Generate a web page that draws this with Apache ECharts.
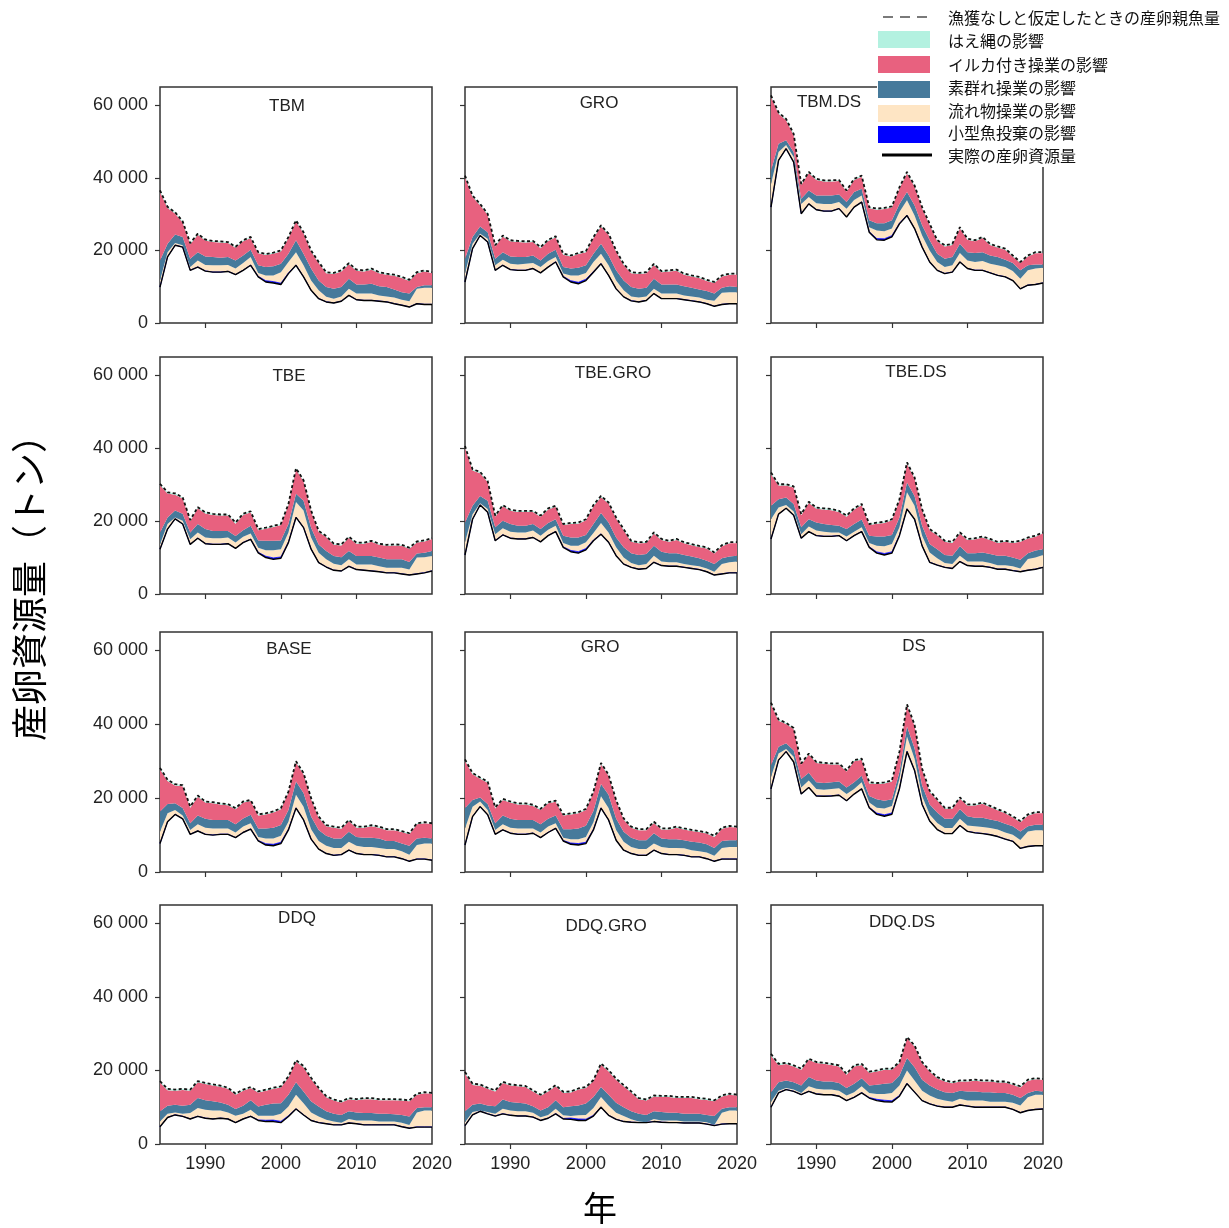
<!DOCTYPE html>
<html>
<head>
<meta charset="utf-8">
<script src="https://cdn.jsdelivr.net/npm/echarts@6/dist/echarts.min.js"></script>
<style>
  html, body { margin: 0; padding: 0; background: #fff; }
  #chart { width: 1229px; height: 1228px; }
</style>
</head>
<body>
<div id="chart"></div>
<script>
// Years on the x axis
const years = [1984,1985,1986,1987,1988,1989,1990,1991,1992,1993,1994,1995,1996,1997,1998,1999,2000,
               2001,2002,2003,2004,2005,2006,2007,2008,2009,2010,2011,2012,2013,2014,2015,2016,2017,2018,2019,2020];

// Tick values
const xTickYears = [1990, 2000, 2010];
const xLabelYears = [1990, 2000, 2010, 2020];
const yTickValues = [0, 20000, 40000, 60000];

// All levels below are in thousand tonnes.
// ssb = actual spawning biomass, driftTop = top of drifting-object band,
// freeTop = top of free-school band, total = biomass with no fishing.

// Small-fish discard impact (thin band just above the actual SSB)
const smallFishImpact = [0.05,0.05,0.05,0.05,0.05,0.05,0.05,0.05,0.05,0.05,0.05,0.05,0.08,0.15,0.35,0.4,0.35,0.2,0.1,0.05,
                         0.05,0.05,0.05,0.05,0.05,0.05,0.05,0.05,0.05,0.05,0.05,0.05,0.05,0.05,0.05,0.05,0.05];
// Longline impact (thin band just under the unfished line)
const longlineImpact = [0.4,0.35,0.35,0.3,0.3,0.3,0.3,0.3,0.3,0.3,0.3,0.3,0.3,0.3,0.3,0.3,0.3,0.3,0.35,0.3,
                        0.3,0.3,0.3,0.3,0.3,0.3,0.3,0.3,0.3,0.3,0.3,0.3,0.3,0.3,0.3,0.3,0.3];

// TBM
const tbmSsb      = [9.9,18.2,21.4,20.9,14.5,15.4,14.3,14.0,14.0,14.2,13.3,14.5,15.9,12.7,11.3,11.0,10.6,13.6,15.9,12.7,9.0,6.7,5.8,5.5,6.0,7.6,6.4,6.2,6.2,6.0,5.8,5.3,4.9,4.4,5.3,5.1,5.1];
const tbmDriftTop = [11.7,19.5,22.0,21.4,15.4,17.2,16.0,15.9,15.9,16.0,15.0,16.5,18.2,13.8,13.1,13.1,14.0,16.8,19.5,15.9,11.7,9.0,7.2,6.7,7.3,9.4,8.1,8.1,8.1,7.6,7.3,7.0,6.4,6.0,9.4,9.7,9.7];
const tbmFreeTop  = [17.2,21.8,24.4,23.7,17.7,19.5,18.3,18.2,18.0,18.2,17.2,18.6,20.2,15.9,15.4,15.6,16.3,19.1,22.8,19.1,15.0,11.7,9.9,9.4,9.9,12.2,10.6,10.6,10.8,10.1,9.9,9.2,8.5,8.1,9.9,10.4,10.4];
const tbmTotal    = [36.5,32.0,30.5,28.0,22.0,24.6,23.0,22.6,22.5,22.3,21.0,22.8,23.7,19.5,19.0,19.4,20.0,23.7,28.3,25.0,20.0,16.8,14.0,13.8,14.5,16.5,14.7,14.5,15.0,14.0,13.6,13.3,12.7,11.9,14.0,14.5,14.0];

// GRO (top row)
const gro1Ssb      = [11.3,20.5,24.1,22.3,14.5,15.9,14.7,14.5,14.5,15.0,13.8,15.4,16.8,12.7,11.3,10.8,11.7,14.0,16.3,13.1,9.4,7.2,6.1,5.8,6.2,8.1,6.7,6.7,6.7,6.4,6.1,5.8,5.3,4.6,5.1,5.3,5.3];
const gro1DriftTop = [13.6,21.8,24.6,23.2,15.9,17.4,16.3,16.1,16.3,16.5,15.4,17.1,18.2,13.6,13.1,13.1,13.8,16.8,19.1,15.9,11.7,9.0,7.3,7.0,7.3,9.4,8.1,8.1,8.1,7.6,7.3,7.0,6.4,6.1,8.3,8.5,8.5];
const gro1FreeTop  = [17.7,23.7,26.6,25.0,17.7,19.5,18.3,18.2,18.2,18.6,17.2,19.1,20.2,15.4,15.0,15.2,15.9,19.1,21.8,18.6,14.5,11.7,9.9,9.4,9.7,12.2,10.6,10.6,10.6,10.1,9.7,9.2,8.8,8.1,9.7,10.1,9.9];
const gro1Total    = [40.6,35.1,32.8,30.1,21.4,24.1,22.8,22.6,22.5,22.6,20.9,22.9,23.9,19.1,18.6,19.3,19.8,23.7,26.9,24.6,20.0,16.3,14.0,13.8,14.0,16.3,14.3,14.5,14.7,13.6,13.1,12.7,11.9,11.3,13.1,13.6,13.6];

// TBM.DS
const tbmdsSsb      = [31.9,44.8,48.0,44.3,30.1,32.8,31.2,30.8,30.8,31.5,29.2,31.9,33.3,25.0,22.9,22.8,23.7,27.3,29.6,26.0,20.9,16.8,14.5,13.6,14.0,16.8,15.0,14.5,14.5,13.8,13.1,12.7,11.7,9.4,10.4,10.6,11.0];
const tbmdsDriftTop = [38.3,47.1,49.0,45.7,32.8,34.7,33.0,32.8,32.8,33.3,31.5,33.9,35.1,26.4,25.5,25.3,26.0,30.6,33.8,29.6,24.1,20.0,16.8,15.4,15.9,19.3,17.2,16.8,17.1,16.3,15.9,15.4,14.3,12.2,14.5,15.0,15.2];
const tbmdsFreeTop  = [42.0,49.4,50.3,47.1,34.2,36.5,35.1,35.1,35.1,35.4,33.3,36.1,37.0,28.3,27.5,27.5,28.3,32.8,36.1,32.4,26.9,22.8,19.1,17.7,18.2,21.8,19.5,19.3,19.5,18.6,18.2,17.4,16.5,14.5,15.9,16.1,16.1];
const tbmdsTotal    = [62.7,58.0,56.2,52.1,38.3,41.6,39.7,39.3,39.3,39.4,36.5,39.7,40.6,31.9,31.5,31.7,32.1,37.4,41.6,37.9,31.9,27.3,22.8,21.4,21.8,26.4,23.2,22.8,23.7,21.8,21.1,20.5,18.6,16.8,18.6,19.5,19.5];

// TBE
const tbeSsb      = [12.3,17.8,20.6,19.2,13.6,15.3,13.8,13.6,13.6,13.8,12.5,14.1,15.0,11.3,10.0,9.5,9.8,14.1,21.0,18.2,12.3,8.6,7.4,6.5,6.3,7.6,6.7,6.5,6.3,6.1,5.8,5.8,5.5,5.2,5.5,5.8,6.3];
const tbeDriftTop = [13.6,19.2,21.0,20.1,15.0,16.9,15.5,15.3,15.3,15.5,14.1,15.7,16.6,12.7,12.0,12.0,12.3,16.9,25.2,22.9,15.5,11.3,9.5,8.3,7.9,9.5,8.1,8.1,8.1,7.6,7.2,7.2,7.2,6.7,10.0,10.1,10.4];
const tbeFreeTop  = [16.9,21.0,22.9,22.0,16.9,19.2,17.8,17.3,17.3,17.3,15.9,17.5,18.7,14.7,14.6,14.6,14.7,19.2,27.5,25.6,18.2,13.6,11.8,10.4,10.1,11.8,10.4,10.4,10.4,10.0,9.5,9.5,9.5,8.8,11.1,11.3,11.8];
const tbeTotal    = [30.2,27.9,27.6,26.5,20.3,23.8,22.4,22.0,21.8,21.8,19.6,22.0,22.7,17.8,18.2,18.7,19.2,24.7,34.5,31.2,22.9,17.3,15.9,13.8,13.6,15.7,14.1,14.1,14.6,13.8,13.5,13.6,13.5,12.7,14.4,14.7,15.3];

// TBE.GRO
const tbegroSsb      = [10.7,20.5,24.4,22.4,14.6,16.2,15.3,15.1,15.1,15.5,14.3,16.0,17.1,12.8,11.6,11.2,12.1,14.6,16.4,14.2,10.5,8.2,7.3,6.8,7.0,8.7,7.8,7.6,7.6,7.3,7.0,6.7,6.1,5.2,5.5,5.8,5.8];
const tbegroDriftTop = [14.2,21.9,24.9,23.3,16.4,18.0,17.1,16.9,16.9,17.4,16.0,17.6,18.7,14.0,13.2,13.2,14.2,16.7,19.5,16.9,12.8,10.0,8.5,7.9,8.2,10.5,8.9,8.7,8.7,8.2,7.9,7.6,7.0,6.1,8.2,8.7,8.9];
const tbegroFreeTop  = [19.6,24.2,26.9,25.6,18.3,20.1,19.2,18.7,18.7,19.2,17.8,19.5,20.5,16.0,15.5,15.5,16.2,19.2,22.2,19.6,15.5,12.8,11.2,10.7,11.0,13.2,11.6,11.2,11.2,10.7,10.3,9.8,9.1,8.2,9.8,10.3,10.5];
const tbegroTotal    = [40.6,34.2,33.5,31.0,21.5,24.4,23.1,22.8,22.8,22.8,21.5,23.5,24.2,19.2,19.5,19.6,20.5,24.4,26.9,25.1,21.0,17.8,14.6,14.2,14.3,16.9,15.1,14.6,15.1,14.2,13.7,13.2,12.8,11.4,13.4,14.2,14.2];

// TBE.DS
const tbedsSsb      = [15.1,21.9,23.5,21.6,15.3,17.1,16.0,15.8,15.8,16.0,14.6,16.0,17.1,12.8,11.2,10.7,11.2,16.0,23.3,20.5,13.2,8.7,7.9,7.3,7.0,8.9,7.8,7.6,7.6,7.3,6.8,6.8,6.4,6.1,6.5,6.8,7.3];
const tbedsDriftTop = [20.5,23.7,24.4,22.6,16.4,18.5,17.4,17.1,16.9,16.9,15.8,17.1,18.3,14.0,13.2,13.1,13.7,18.3,27.9,24.2,16.0,11.4,9.8,8.5,8.2,10.5,8.9,8.9,8.9,8.5,7.9,7.9,7.6,7.0,9.6,10.0,10.7];
const tbedsFreeTop  = [24.2,26.0,26.5,24.7,18.3,20.5,19.6,19.2,18.9,18.7,17.8,19.2,20.4,16.0,15.8,15.8,16.2,21.0,30.6,26.9,18.7,13.7,12.3,10.7,10.5,13.1,11.2,11.2,11.4,11.0,10.5,10.5,10.0,9.4,11.2,11.9,12.3];
const tbedsTotal    = [33.3,30.1,30.1,29.5,21.9,25.3,23.7,23.5,23.3,22.8,21.5,23.5,24.7,19.2,19.6,19.8,20.5,26.0,36.1,32.0,23.3,17.8,16.4,14.6,14.3,16.9,15.1,15.3,15.8,15.1,14.3,14.6,14.3,14.6,15.5,16.0,16.9];

// BASE
const baseSsb      = [7.7,13.6,15.6,14.4,10.2,11.1,10.2,10.0,10.2,10.2,9.3,10.7,11.6,8.4,7.3,7.1,7.7,11.4,17.3,14.1,8.9,6.2,5.0,4.5,4.7,5.9,5.0,4.7,4.7,4.5,4.1,4.1,3.6,2.9,3.5,3.5,3.2];
const baseDriftTop = [10.9,15.9,16.8,15.3,11.4,12.9,12.0,11.8,11.8,11.8,10.7,12.3,13.2,9.5,9.1,9.1,9.8,13.6,20.9,17.7,11.6,8.4,7.1,6.5,6.5,8.2,7.1,6.8,6.8,6.5,6.2,6.2,5.6,4.7,7.3,7.7,7.7];
const baseFreeTop  = [16.4,18.4,18.6,17.3,13.2,15.3,14.4,14.1,14.1,14.1,12.9,14.5,15.5,11.8,11.8,12.0,12.7,16.8,24.5,21.4,15.0,11.4,9.8,9.1,9.1,10.9,9.5,9.3,9.3,9.1,8.4,8.4,7.7,7.1,9.1,9.3,9.1];
const baseTotal    = [28.2,25.0,23.8,23.5,17.7,20.7,19.1,18.9,18.6,18.4,17.3,19.1,19.5,15.6,15.9,16.4,17.3,21.8,30.0,26.8,20.0,15.0,12.7,12.3,12.0,14.1,12.3,12.3,12.7,12.3,11.6,11.6,11.1,10.5,13.2,13.5,13.2];

// GRO (third row)
const gro2Ssb      = [7.3,15.0,17.7,15.5,10.2,11.4,10.5,10.2,10.2,10.5,9.3,10.7,11.8,8.4,7.5,7.3,7.7,11.4,17.3,14.1,8.6,5.9,5.0,4.5,4.5,5.9,5.0,4.7,4.7,4.5,4.1,4.1,3.6,2.9,3.5,3.5,3.5];
const gro2DriftTop = [11.8,17.7,19.1,16.8,11.4,12.9,12.0,11.8,11.8,11.8,10.7,12.3,13.2,9.3,8.9,8.9,9.5,13.5,20.5,17.3,11.4,8.2,6.8,6.2,6.2,7.7,6.8,6.5,6.5,6.4,5.9,5.6,5.3,4.4,6.5,6.8,6.8];
const gro2FreeTop  = [17.3,19.5,20.2,18.4,13.2,15.3,14.4,14.1,14.1,14.1,12.9,14.4,15.3,11.6,11.6,11.8,12.5,16.5,23.8,20.9,14.5,10.9,9.3,8.6,8.6,10.5,9.1,8.9,8.9,8.6,8.2,8.0,7.5,6.5,8.4,8.6,8.6];
const gro2Total    = [30.5,26.8,25.6,24.5,17.5,19.8,19.1,18.6,18.6,18.2,17.1,18.9,19.3,15.6,15.9,16.2,17.1,21.8,29.5,26.4,19.5,14.5,12.3,11.6,11.6,13.6,11.8,11.8,12.3,11.8,11.4,11.1,10.7,9.8,12.0,12.5,12.3];

// DS
const dsSsb      = [22.5,30.3,32.6,29.8,21.1,22.9,20.6,20.5,20.6,20.8,19.3,21.1,22.5,17.4,15.6,15.1,15.6,22.5,32.6,27.5,18.3,13.8,11.5,10.4,10.4,12.6,11.0,10.6,10.4,10.1,9.6,8.9,8.3,6.4,6.9,7.1,7.1];
const dsDriftTop = [25.7,32.1,33.3,31.2,22.9,24.8,22.5,22.3,22.5,22.7,21.1,22.5,24.3,18.8,17.4,17.2,17.9,25.2,36.7,30.7,20.6,15.6,13.3,11.9,11.9,14.4,12.6,12.4,12.2,11.9,11.5,10.7,10.1,8.7,11.0,11.3,11.3];
const dsFreeTop  = [28.9,33.9,34.9,33.0,25.2,26.9,24.3,24.1,24.3,24.5,22.9,24.3,26.1,20.6,19.7,19.3,19.7,27.1,39.4,33.5,23.4,18.3,16.1,14.4,14.4,17.0,15.1,14.7,14.7,14.2,13.8,13.1,12.4,11.0,12.4,12.8,12.8];
const dsTotal    = [45.9,41.3,40.4,39.0,29.4,32.1,29.8,29.6,29.4,29.4,27.5,30.3,30.7,24.3,24.1,24.3,24.8,32.6,45.4,39.9,28.0,22.0,19.7,17.4,17.4,20.2,18.3,18.3,18.8,17.9,17.0,16.2,15.1,13.8,15.6,16.2,16.2];

// DDQ
const ddqSsb      = [4.7,7.2,7.9,7.5,6.8,7.5,7.0,6.8,7.0,6.8,5.8,6.8,7.5,6.4,6.1,6.1,5.8,7.5,9.5,7.9,6.4,5.8,5.5,5.2,5.2,5.7,5.5,5.2,5.2,5.2,5.2,5.2,4.7,4.3,4.6,4.6,4.6];
const ddqDriftTop = [6.1,8.2,8.6,8.2,8.4,9.8,9.3,9.1,9.1,8.6,7.7,8.2,9.3,7.7,7.7,7.7,8.2,10.2,13.4,11.1,8.6,7.5,6.6,6.1,5.8,6.8,6.4,6.4,6.4,6.1,6.1,6.1,5.8,5.2,8.6,9.1,9.1];
const ddqFreeTop  = [8.9,10.4,10.7,10.4,10.7,12.5,11.9,11.6,11.3,10.7,9.5,10.4,11.9,10.2,10.7,11.0,11.1,13.4,16.8,14.3,11.6,10.2,8.9,8.2,7.9,8.9,8.6,8.4,8.4,8.2,8.2,8.1,7.9,7.5,9.8,10.0,10.0];
const ddqTotal    = [17.1,15.0,14.8,15.0,14.8,17.1,16.6,16.2,15.9,15.3,13.7,14.8,15.5,14.3,14.8,15.3,15.7,18.4,22.8,21.2,18.0,15.3,13.0,12.1,11.6,12.5,12.2,12.5,12.5,12.2,12.2,12.2,12.1,11.9,13.7,14.1,13.9];

// DDQ.GRO
const ddqgroSsb      = [5.0,7.9,8.9,8.2,7.6,8.2,7.8,7.6,7.6,7.3,6.4,7.0,8.2,6.8,6.7,6.4,6.4,7.6,10.0,7.8,6.7,6.1,5.9,5.8,5.8,6.1,5.9,5.8,5.8,5.7,5.7,5.7,5.4,5.0,5.4,5.5,5.5];
const ddqgroDriftTop = [5.9,8.7,9.1,8.7,8.2,9.6,9.1,8.9,8.9,8.5,7.3,7.9,9.6,7.8,7.6,7.8,7.9,9.8,12.8,10.5,8.5,7.6,6.7,6.1,5.9,6.8,6.4,6.4,6.4,6.1,6.1,6.1,5.9,5.2,8.5,9.1,9.1];
const ddqgroFreeTop  = [8.9,10.7,11.0,10.5,10.3,12.1,11.4,11.2,11.0,10.3,9.1,10.0,11.9,10.0,10.3,10.5,11.0,12.8,15.5,13.4,11.2,10.0,8.9,8.2,7.9,8.9,8.7,8.5,8.5,8.2,8.2,8.2,7.9,7.6,9.6,10.0,10.0];
const ddqgroTotal    = [19.6,16.4,16.2,15.3,14.6,16.9,16.2,16.0,15.8,14.6,13.4,14.6,16.0,14.2,14.3,15.1,15.5,17.4,21.9,20.1,17.8,16.0,14.3,12.5,12.1,13.2,13.1,13.1,12.8,12.8,12.8,12.5,12.3,11.9,13.2,13.7,13.4];

// DDQ.DS
const ddqdsSsb      = [10.0,13.9,14.8,14.3,13.4,14.3,13.6,13.4,13.4,13.0,11.8,12.7,13.9,12.5,11.8,11.5,11.4,13.0,16.4,14.1,11.8,10.9,10.3,10.0,10.0,10.6,10.3,10.0,10.0,10.0,10.0,10.0,9.4,8.5,9.1,9.4,9.5];
const ddqdsDriftTop = [11.4,14.5,15.2,14.8,13.9,15.7,15.0,14.8,14.8,14.5,13.2,14.1,15.7,13.9,13.6,13.6,13.9,15.9,20.0,17.3,14.5,13.2,12.3,11.8,11.5,12.3,11.8,11.8,11.8,11.5,11.5,11.5,11.2,10.5,12.7,13.4,13.4];
const ddqdsFreeTop  = [14.1,16.8,17.3,16.8,15.9,18.2,17.3,17.0,17.0,16.6,15.2,16.4,17.9,15.9,16.1,16.4,16.6,18.6,23.4,20.9,17.5,15.9,14.8,14.1,13.9,14.5,14.3,14.3,14.1,14.1,13.9,13.9,13.4,12.5,13.9,14.5,14.3];
const ddqdsTotal    = [24.5,21.8,22.1,21.4,20.5,23.2,22.3,22.1,21.8,21.4,19.1,21.4,21.8,19.7,20.0,20.5,20.5,22.3,29.1,26.8,22.3,20.0,18.2,17.3,16.8,17.3,17.3,17.5,17.3,17.3,17.0,17.0,16.4,15.7,17.5,17.9,17.7];

// Panel order: row by row, left to right
const panels = [
  { label: 'TBM',     ssb: tbmSsb,    driftTop: tbmDriftTop,    freeTop: tbmFreeTop,    total: tbmTotal },
  { label: 'GRO',     ssb: gro1Ssb,   driftTop: gro1DriftTop,   freeTop: gro1FreeTop,   total: gro1Total },
  { label: 'TBM.DS',  ssb: tbmdsSsb,  driftTop: tbmdsDriftTop,  freeTop: tbmdsFreeTop,  total: tbmdsTotal },
  { label: 'TBE',     ssb: tbeSsb,    driftTop: tbeDriftTop,    freeTop: tbeFreeTop,    total: tbeTotal },
  { label: 'TBE.GRO', ssb: tbegroSsb, driftTop: tbegroDriftTop, freeTop: tbegroFreeTop, total: tbegroTotal },
  { label: 'TBE.DS',  ssb: tbedsSsb,  driftTop: tbedsDriftTop,  freeTop: tbedsFreeTop,  total: tbedsTotal },
  { label: 'BASE',    ssb: baseSsb,   driftTop: baseDriftTop,   freeTop: baseFreeTop,   total: baseTotal },
  { label: 'GRO',     ssb: gro2Ssb,   driftTop: gro2DriftTop,   freeTop: gro2FreeTop,   total: gro2Total },
  { label: 'DS',      ssb: dsSsb,     driftTop: dsDriftTop,     freeTop: dsFreeTop,     total: dsTotal },
  { label: 'DDQ',     ssb: ddqSsb,    driftTop: ddqDriftTop,    freeTop: ddqFreeTop,    total: ddqTotal },
  { label: 'DDQ.GRO', ssb: ddqgroSsb, driftTop: ddqgroDriftTop, freeTop: ddqgroFreeTop, total: ddqgroTotal },
  { label: 'DDQ.DS',  ssb: ddqdsSsb,  driftTop: ddqdsDriftTop,  freeTop: ddqdsFreeTop,  total: ddqdsTotal }
];

// Legend texts
const legendNames = {
  unfished: '漁獲なしと仮定したときの産卵親魚量',
  longline: 'はえ縄の影響',
  dolphin:  'イルカ付き操業の影響',
  free:     '素群れ操業の影響',
  drift:    '流れ物操業の影響',
  small:    '小型魚投棄の影響',
  ssb:      '実際の産卵資源量'
};

// ---- layout & style ----
const colLeft = [160, 465, 771];
const rowBox = [[87, 236], [357, 237], [632, 240], [905, 239]];
const boxW = 272;
const titleXY = [[287,106],[599,103],[829,102],[289,376],[613,373],[916,372],
                 [289,649],[600,647],[914,646],[297,918],[606,926],[902,922]];
const colors = {
  longline: '#b3f1e0', dolphin: '#e8617f', free: '#467a9b',
  drift: '#fee5c4', small: '#0000ff', ssb: '#000000', unfished: '#111111'
};
const latinFont = '"Liberation Sans", Arial, Helvetica, sans-serif';
const jpFont = '"Noto Sans CJK JP", "Noto Sans", sans-serif';
const T = 1000; // thousand tonnes -> tonnes

const yearLabels = years.map(String);
const tickSet = new Set(xTickYears.map(String));
const labelSet = new Set(xLabelYears.map(String));

const grids = [], xAxes = [], yAxes = [], series = [], graphics = [];

panels.forEach((p, i) => {
  const row = Math.floor(i / 3), col = i % 3;
  grids.push({
    left: colLeft[col], top: rowBox[row][0], width: boxW, height: rowBox[row][1],
    show: true, borderColor: '#333', borderWidth: 1.5, backgroundColor: 'transparent'
  });
  xAxes.push({
    gridIndex: i, type: 'category', data: yearLabels, boundaryGap: false,
    axisLine: { show: false }, splitLine: { show: false },
    axisTick: { show: true, length: 5, interval: (idx, v) => tickSet.has(v), lineStyle: { color: '#333', width: 1.2 } },
    axisLabel: { show: row === 3, interval: (idx, v) => labelSet.has(v), fontSize: 18, color: '#222', margin: 11,
                 fontFamily: latinFont, showMaxLabel: true }
  });
  yAxes.push({
    gridIndex: i, type: 'value', min: 0, max: 65000,
    axisLine: { show: false }, splitLine: { show: false },
    axisTick: { show: true, length: 5, customValues: yTickValues, lineStyle: { color: '#333', width: 1.2 } },
    axisLabel: {
      show: col === 0, customValues: yTickValues, fontSize: 18, color: '#222', margin: 12, fontFamily: latinFont,
      formatter: v => v === 0 ? '0' : (v / 1000) + ' 000'
    }
  });

  // impact layers derived from the band boundaries
  const small = years.map((y, j) => smallFishImpact[j]);
  const drift = years.map((y, j) => Math.max(0, p.driftTop[j] - p.ssb[j] - smallFishImpact[j]));
  const free = years.map((y, j) => Math.max(0, p.freeTop[j] - p.driftTop[j]));
  const dolphin = years.map((y, j) => Math.max(0, p.total[j] - longlineImpact[j] - p.freeTop[j]));
  const longl = years.map((y, j) => longlineImpact[j]);
  const toT = arr => arr.map(v => +(v * T).toFixed(0));

  const stack = 'panel' + i;
  const base = { type: 'line', xAxisIndex: i, yAxisIndex: i, stack: stack, symbol: 'none', silent: true, animation: false };
  series.push(Object.assign({}, base, { name: legendNames.ssb, data: toT(p.ssb), z: 6,
    lineStyle: { color: colors.ssb, width: 1.4 } }));
  const layers = [['small', small], ['drift', drift], ['free', free], ['dolphin', dolphin], ['longline', longl]];
  layers.forEach(([key, arr]) => {
    series.push(Object.assign({}, base, { name: legendNames[key], data: toT(arr), z: 2,
      lineStyle: { width: key === 'small' ? 0.8 : 0, color: colors[key] },
      areaStyle: { color: colors[key], opacity: 1 } }));
  });
  series.push({ type: 'line', xAxisIndex: i, yAxisIndex: i, name: legendNames.unfished, symbol: 'none',
    silent: true, animation: false, z: 7, data: toT(p.total),
    lineStyle: { color: colors.unfished, width: 1.8, type: [3, 2.5] } });

  graphics.push({ type: 'text', x: titleXY[i][0], y: titleXY[i][1], z: 50,
    style: { text: p.label, font: '17px ' + latinFont, fill: '#222',
             textAlign: 'center', textVerticalAlign: 'middle', align: 'center', verticalAlign: 'middle' } });
});

// Axis titles
graphics.push({ type: 'text', x: 29, y: 579, rotation: Math.PI / 2, z: 50,
  style: { text: '産卵資源量（トン）', font: '36px ' + jpFont, fill: '#000',
           textAlign: 'center', textVerticalAlign: 'middle', align: 'center', verticalAlign: 'middle' } });
graphics.push({ type: 'text', x: 600, y: 1208, z: 50,
  style: { text: '年', font: '34px ' + jpFont, fill: '#000',
           textAlign: 'center', textVerticalAlign: 'middle', align: 'center', verticalAlign: 'middle' } });

// Legend block (top right, white background over the corner of the third panel)
graphics.push({ type: 'rect', z: 100, shape: { x: 877, y: 0, width: 352, height: 167 }, style: { fill: '#fff' } });
graphics.push({ type: 'line', z: 101, shape: { x1: 883, y1: 17, x2: 932, y2: 17 },
  style: { stroke: '#7a7a7a', lineWidth: 2, lineDash: [10, 7] } });
const swatches = [['longline', 31], ['dolphin', 56], ['free', 81], ['drift', 105], ['small', 126]];
swatches.forEach(([key, y]) => {
  graphics.push({ type: 'rect', z: 101, shape: { x: 878, y: y, width: 52, height: 17 }, style: { fill: colors[key] } });
});
graphics.push({ type: 'line', z: 101, shape: { x1: 882, y1: 155, x2: 932, y2: 155 },
  style: { stroke: '#000', lineWidth: 3 } });
const legendRows = [['unfished', 18], ['longline', 41], ['dolphin', 65], ['free', 88], ['drift', 111], ['small', 133], ['ssb', 156]];
legendRows.forEach(([key, y]) => {
  graphics.push({ type: 'text', z: 101, x: 948, y: y,
    style: { text: legendNames[key], font: '16px ' + jpFont, fill: '#111',
             textAlign: 'left', textVerticalAlign: 'middle', align: 'left', verticalAlign: 'middle' } });
});

const chart = echarts.init(document.getElementById('chart'), null, { renderer: 'canvas' });
chart.setOption({
  backgroundColor: '#fff',
  animation: false,
  grid: grids,
  xAxis: xAxes,
  yAxis: yAxes,
  series: series,
  graphic: { elements: graphics }
});
</script>
</body>
</html>
